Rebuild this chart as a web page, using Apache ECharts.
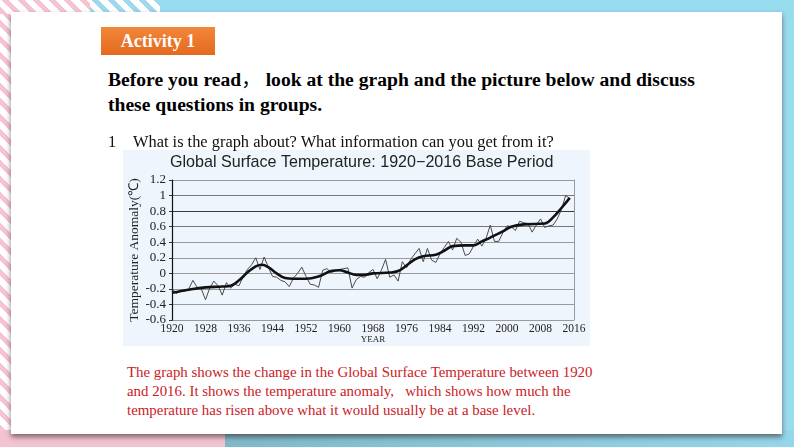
<!DOCTYPE html>
<html>
<head>
<meta charset="utf-8">
<script src="https://cdn.jsdelivr.net/npm/echarts@6/dist/echarts.min.js"></script>
<style>
  html, body { margin:0; padding:0; }
  body { width:794px; height:447px; position:relative; overflow:hidden; background:#fff; }
  .leftstripes { position:absolute; left:0; top:0; width:20px; height:447px;
    background: repeating-linear-gradient(45deg, #f5c3d1 0 5px, #fff 5px 11px); }
  .topband { position:absolute; left:160px; top:0; width:634px; height:14px; background:#98dcef; }
  .toppink { position:absolute; left:0; top:0; width:90px; height:14px;
    background: repeating-linear-gradient(45deg, #f5c3d1 0 5px, #fff 5px 11px); }
  .topblue { position:absolute; left:90px; top:0; width:70px; height:14px;
    background: repeating-linear-gradient(45deg, #9fd8ec 0 5px, #fff 5px 11px); }
  .rightband { position:absolute; right:0; top:0; width:12px; height:447px; background:#98dcef; }
  .botpink { position:absolute; left:0; top:430px; width:225px; height:17px; background:#f2c4d0; }
  .botblue { position:absolute; left:225px; top:430px; width:569px; height:17px;
    background: linear-gradient(90deg, #7fb9c9, #96d6ea); }
  .card { position:absolute; left:11px; top:12px; width:771px; height:422px; background:#fff;
    box-shadow: 0 3px 5px rgba(40,20,20,0.55); }
  .act { position:absolute; left:101px; top:27px; width:114px; height:28px;
    background: linear-gradient(180deg, #f2873a, #e4691e); color:#fff;
    font: bold 18px "Liberation Serif", serif; line-height:28px; text-align:center; }
  .head { position:absolute; left:108px; top:66px; font: bold 19.6px "Liberation Serif", "Noto Sans CJK SC", serif; color:#000;
    line-height:24.5px; white-space:nowrap; }
  .cjk { font-family:"Noto Sans CJK SC"; font-weight:normal; }
  .q { position:absolute; left:108px; top:132px; font: 16.4px "Liberation Serif", serif; color:#111; white-space:nowrap; z-index:3; }
  .q span { display:inline-block; width:25px; }
  .red { position:absolute; left:127px; top:363px; font: 14.9px "Liberation Serif", serif; color:#cc1a1f;
    line-height:19px; white-space:nowrap; }
  #panel { position:absolute; left:123px; top:150px; width:467px; height:196px; background:#eef5fd; z-index:1; }
</style>
</head>
<body>
<div class="leftstripes"></div>
<div class="toppink"></div>
<div class="topblue"></div>
<div class="topband"></div>
<div class="rightband"></div>
<div class="botpink"></div>
<div class="botblue"></div>
<div class="card"></div>
<div class="act">Activity 1</div>
<div class="head">Before you read<span class="cjk">，</span> look at the graph and the picture below and discuss<br>these questions in groups.</div>
<div class="q"><span>1</span>What is the graph about? What information can you get from it?</div>
<div id="panel"></div>
<div class="red">The graph shows the change in the Global Surface Temperature between 1920<br>and 2016. It shows the temperature anomaly,&nbsp;&nbsp; which shows how much the<br>temperature has risen above what it would usually be at a base level.</div>
<script>
// ---- data ----
const chartTitle = "Global Surface Temperature: 1920\u22122016 Base Period";
const yAxisName = "Temperature Anomaly(\u2103)";
const xAxisName = "YEAR";
const years = [];
for (let y = 1920; y <= 2015; y++) years.push(y);
const annualAnomaly = [
  -0.19,-0.26,-0.22,-0.23,-0.20,-0.09,-0.18,-0.20,-0.34,-0.19,
  -0.10,-0.16,-0.28,-0.12,-0.19,-0.14,-0.16,-0.04, 0.05, 0.11,
   0.20, 0.05, 0.21, 0.08,-0.04,-0.05,-0.09,-0.11,-0.17,-0.06,
   0.00, 0.08,-0.04,-0.14,-0.15,-0.18, 0.04, 0.06, 0.01, 0.03,
   0.05, 0.06, 0.07,-0.19,-0.08,-0.04,-0.05, 0.01, 0.05,-0.07,
   0.04, 0.18,-0.05,-0.02,-0.10, 0.15, 0.07, 0.18, 0.25, 0.32,
   0.15, 0.32, 0.17, 0.14, 0.25, 0.33, 0.41, 0.30, 0.45, 0.40,
   0.23, 0.25, 0.35, 0.44, 0.35, 0.45, 0.62, 0.41, 0.41, 0.52,
   0.61, 0.60, 0.55, 0.67, 0.65, 0.64, 0.53, 0.62, 0.70, 0.59,
   0.61, 0.62, 0.70, 0.82, 1.00, 0.96
];
const trendYears = [1920,1924,1928,1932,1934,1936,1938,1940,1941.5,1943,1945,1947,1949,1952,1955,1958,1960,1962,1964,1966,1968,1972,1974,1976,1978,1980,1983,1985,1987,1990,1992,1994,1996,1999,2001,2004,2009,2011,2013,2015];
const trendValues = [-0.25,-0.21,-0.18,-0.17,-0.16,-0.09,0.01,0.09,0.11,0.08,0.00,-0.06,-0.07,-0.07,-0.04,0.03,0.04,0.01,-0.02,-0.02,0.00,0.01,0.03,0.10,0.18,0.22,0.24,0.29,0.35,0.36,0.36,0.41,0.46,0.54,0.60,0.63,0.64,0.72,0.84,0.97];
const yMin = -0.6, yMax = 1.2, yStep = 0.2;
const xMin = 1920, xMax = 2016, xStep = 8;

const chart = echarts.init(document.getElementById('panel'));
const gridColors = ['#9a9a9a','#9a9a9a','#9a9a9a','#9a9a9a','#9a9a9a','#9a9a9a','#777','#3a3a3a','#777','#9a9a9a','#222'];
chart.setOption({
  animation:false,
  title:{ text: chartTitle, left:42, top:0, textStyle:{ fontFamily:'Liberation Sans, Arial, sans-serif', fontWeight:'normal', fontSize:16.1, color:'#222' } },
  grid:{ left:49, top:30, right:16, bottom:26, containLabel:false, outerBoundsMode:'none' },
  xAxis:[{ type:'value', min:xMin, max:xMax, interval:xStep,
    name:xAxisName, nameLocation:'middle', nameGap:15, nameMoveOverlap:false,
    nameTextStyle:{ fontFamily:'Liberation Serif, serif', fontSize:9, color:'#222' },
    axisLine:{ show:false }, axisTick:{ show:false }, splitLine:{ show:false },
    axisLabel:{ margin:3, fontFamily:'Liberation Serif, serif', fontSize:11.5, color:'#222',
      formatter: v => String(v) } }],
  yAxis:[{ type:'value', min:yMin, max:yMax, interval:yStep,
    name:yAxisName, nameLocation:'middle', nameGap:31, nameRotate:90, nameMoveOverlap:false,
    nameTextStyle:{ fontFamily:'Liberation Serif, serif', fontSize:13.5, color:'#222' },
    axisLine:{ show:true, lineStyle:{ color:'#111', width:1.2 } },
    axisTick:{ show:true, length:3, lineStyle:{ color:'#333' } },
    axisLabel:{ margin:6, fontFamily:'Liberation Serif, serif', fontSize:13, color:'#222',
      formatter: v => String(Math.round(v*10)/10) },
    splitLine:{ show:true, lineStyle:{ color: gridColors, width:1.2 } } },
   { type:'value', position:'right', min:yMin, max:yMax, interval:yStep,
    axisLine:{ show:true, lineStyle:{ color:'#9a9a9a', width:1 } },
    axisTick:{ show:false }, axisLabel:{ show:false }, splitLine:{ show:false } }],
  series:[
    { type:'line', data: years.map((y,i)=>[y, annualAnomaly[i]]), showSymbol:false,
      lineStyle:{ color:'#4a4a4a', width:1 }, z:2 },
    { type:'line', data: trendYears.map((y,i)=>[y, trendValues[i]]), showSymbol:false, smooth:0.4,
      lineStyle:{ color:'#111', width:2.6 }, z:3 }
  ]
});
</script>
</body>
</html>
